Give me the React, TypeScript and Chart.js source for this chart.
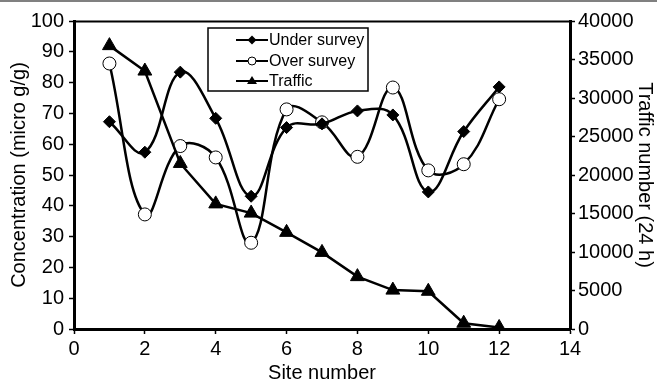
import React, { useEffect, useRef } from "react";
import { Chart, registerables } from "chart.js";

Chart.register(...registerables);

const sites = [1, 2, 3, 4, 5, 6, 7, 8, 9, 10, 11, 12];
const underSurvey = [67.3, 57.4, 83.4, 68.4, 43.1, 65.4, 66.6, 70.8, 69.5, 44.5, 64.1, 78.6];
const overSurvey = [86.2, 37.2, 59.4, 55.7, 28.0, 71.3, 67.1, 55.9, 78.4, 51.5, 53.5, 74.6];
const traffic = [36800, 33500, 21500, 16250, 15050, 12550, 9950, 6800, 5050, 4900, 750, 200];

const legendLabels = ["Under survey", "Over survey", "Traffic"];
const FONT = "'Liberation Sans', Arial, sans-serif";

const toXY = (vals: number[]) => vals.map((v, i) => ({ x: sites[i], y: v }));

const decorPlugin = {
  id: "decor",
  afterDraw(chart: any) {
    const ctx = chart.ctx as CanvasRenderingContext2D;
    const ca = chart.chartArea;
    ctx.save();
    ctx.strokeStyle = "#808080";
    ctx.lineWidth = 2;
    ctx.beginPath();
    ctx.moveTo(0, 1);
    ctx.lineTo(chart.width, 1);
    ctx.stroke();
    ctx.strokeStyle = "#000";
    ctx.lineWidth = 2;
    ctx.beginPath();
    ctx.moveTo(ca.left, ca.top + 0.5);
    ctx.lineTo(ca.right, ca.top + 0.5);
    ctx.stroke();

    const bx = 208, by = 28, bw = 160, bh = 63;
    ctx.fillStyle = "#fff";
    ctx.fillRect(bx, by, bw, bh);
    ctx.strokeStyle = "#000";
    ctx.lineWidth = 1.5;
    ctx.strokeRect(bx, by, bw, bh);
    const rows = [40, 61, 81];
    ctx.font = `16px ${FONT}`;
    ctx.textBaseline = "middle";
    ctx.textAlign = "left";
    rows.forEach((ry, i) => {
      ctx.strokeStyle = "#000";
      ctx.lineWidth = 2;
      ctx.beginPath();
      ctx.moveTo(236, ry);
      ctx.lineTo(268, ry);
      ctx.stroke();
      const mx = 252;
      ctx.lineWidth = 1;
      if (i === 0) {
        ctx.fillStyle = "#000";
        ctx.beginPath();
        ctx.moveTo(mx, ry - 4.5);
        ctx.lineTo(mx + 4.5, ry);
        ctx.lineTo(mx, ry + 4.5);
        ctx.lineTo(mx - 4.5, ry);
        ctx.closePath();
        ctx.fill();
      } else if (i === 1) {
        ctx.fillStyle = "#fff";
        ctx.beginPath();
        ctx.arc(mx, ry, 4, 0, Math.PI * 2);
        ctx.fill();
        ctx.stroke();
      } else {
        ctx.fillStyle = "#000";
        ctx.beginPath();
        ctx.moveTo(mx, ry - 5);
        ctx.lineTo(mx + 5, ry + 3);
        ctx.lineTo(mx - 5, ry + 3);
        ctx.closePath();
        ctx.fill();
      }
      ctx.fillStyle = "#000";
      ctx.fillText(legendLabels[i], 269, ry + 1);
    });
    ctx.restore();
  },
};

export default function App() {
  const ref = useRef<HTMLCanvasElement>(null);
  useEffect(() => {
    if (!ref.current) return;
    const tickFont = { family: FONT, size: 20 };
    const plain = (v: any) => String(v);
    const chart = new Chart(ref.current, {
      type: "line",
      data: {
        datasets: [
          {
            label: legendLabels[2],
            data: toXY(traffic),
            yAxisID: "y2",
            borderColor: "#000",
            borderWidth: 2.5,
            tension: 0,
            pointStyle: "triangle",
            pointRadius: 8,
            pointBackgroundColor: "#000",
            pointBorderColor: "#000",
            pointBorderWidth: 1,
          },
          {
            label: legendLabels[0],
            data: toXY(underSurvey),
            yAxisID: "y",
            borderColor: "#000",
            borderWidth: 2.5,
            tension: 0.4,
            pointStyle: "rectRot",
            pointRadius: 6,
            pointBackgroundColor: "#000",
            pointBorderColor: "#000",
            pointBorderWidth: 1,
          },
          {
            label: legendLabels[1],
            data: toXY(overSurvey),
            yAxisID: "y",
            borderColor: "#000",
            borderWidth: 2.5,
            tension: 0.4,
            pointStyle: "circle",
            pointRadius: 6.5,
            pointBackgroundColor: "#fff",
            pointBorderColor: "#000",
            pointBorderWidth: 1,
          },
        ],
      },
      options: {
        responsive: false,
        animation: false,
        devicePixelRatio: 1,
        layout: { padding: { top: 21, left: 0, right: 0, bottom: 0 } },
        plugins: { legend: { display: false }, tooltip: { enabled: false } },
        scales: {
          x: {
            type: "linear",
            position: "bottom",
            min: 0,
            max: 14,
            ticks: { stepSize: 2, color: "#000", font: tickFont, padding: 3, maxRotation: 0, callback: plain },
            grid: { drawOnChartArea: false, drawTicks: true, tickLength: 5, color: "#000", tickWidth: 1.5 },
            border: { display: true, color: "#000", width: 3 },
            title: { display: true, text: "Site number", color: "#000", font: tickFont, padding: { top: 0, bottom: 0 } },
            afterFit: (s: any) => { s.height = 56; },
          },
          y: {
            type: "linear",
            position: "left",
            min: 0,
            max: 100,
            ticks: { stepSize: 10, color: "#000", font: tickFont, padding: 5, callback: plain },
            grid: { drawOnChartArea: false, drawTicks: true, tickLength: 5, color: "#000", tickWidth: 1.5 },
            border: { display: true, color: "#000", width: 3 },
            title: { display: true, text: "Concentration (micro g/g)", color: "#000", font: tickFont, padding: { top: 7, bottom: 0 } },
            afterFit: (s: any) => { s.width = 74; },
          },
          y2: {
            type: "linear",
            position: "right",
            min: 0,
            max: 40000,
            ticks: { stepSize: 5000, color: "#000", font: tickFont, padding: 3, callback: plain },
            grid: { drawOnChartArea: false, drawTicks: true, tickLength: 5, color: "#000", tickWidth: 1.5 },
            border: { display: true, color: "#000", width: 3 },
            title: { display: true, text: "Traffic number (24 h)", color: "#000", font: tickFont, padding: { top: 0, bottom: 0 } },
            afterFit: (s: any) => { s.width = 87; },
          },
        },
      },
      plugins: [decorPlugin],
    } as any);
    return () => chart.destroy();
  }, []);
  return (
    <div style={{ position: "absolute", left: 0, top: 0, width: 657, height: 385, background: "#fff" }}>
      <canvas ref={ref} width={657} height={385} style={{ width: 657, height: 385, display: "block" }} />
    </div>
  );
}
